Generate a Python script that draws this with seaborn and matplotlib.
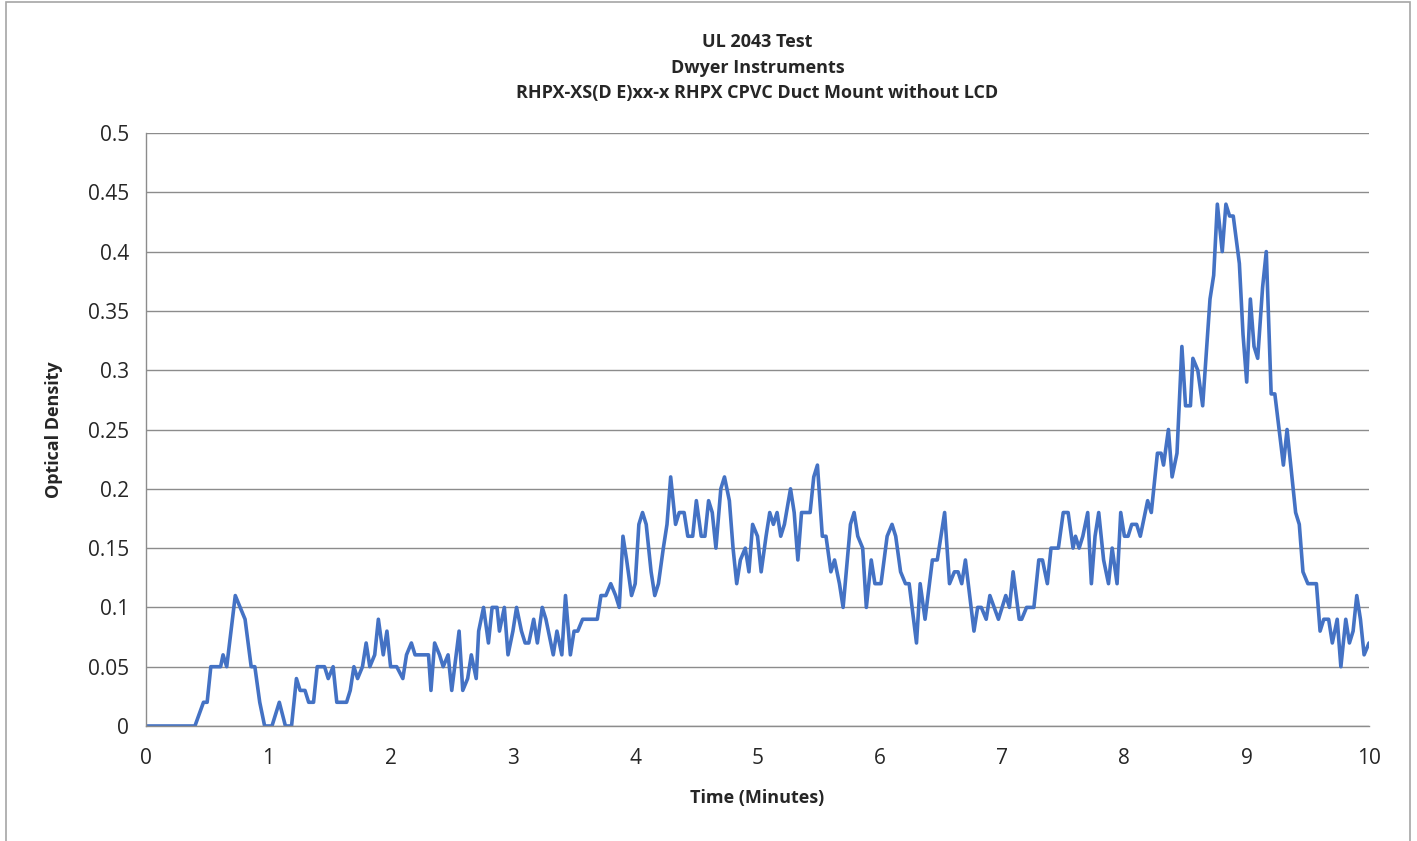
import pandas as pd
import seaborn as sns
import matplotlib.pyplot as plt
from matplotlib.patches import Rectangle

# time (minutes) and optical density
time_min = [
    0, 0.40, 0.47, 0.50, 0.53, 0.61, 0.63, 0.66, 0.73, 0.77, 0.81, 0.86, 0.89, 0.93, 0.97,
    1.03, 1.09, 1.14, 1.19, 1.23, 1.26, 1.30, 1.33, 1.37, 1.40, 1.46, 1.49, 1.53, 1.56, 1.64,
    1.67, 1.70, 1.73, 1.77, 1.80, 1.83, 1.87, 1.90, 1.94, 1.97, 2.00, 2.05, 2.10, 2.13, 2.17,
    2.20, 2.31, 2.33, 2.36, 2.40, 2.43, 2.47, 2.50, 2.56, 2.59, 2.63, 2.66, 2.70, 2.72, 2.76,
    2.80, 2.83, 2.87, 2.89, 2.93, 2.96, 3.00, 3.03, 3.07, 3.10, 3.13, 3.17, 3.20, 3.24, 3.27,
    3.33, 3.36, 3.40, 3.43, 3.47, 3.50, 3.53, 3.57, 3.69, 3.72, 3.76, 3.80, 3.84, 3.87, 3.90,
    3.93, 3.97, 4.00, 4.03, 4.06, 4.09, 4.13, 4.16, 4.19, 4.23, 4.26, 4.29, 4.33, 4.36, 4.40,
    4.43, 4.47, 4.50, 4.54, 4.57, 4.60, 4.63, 4.66, 4.70, 4.73, 4.77, 4.80, 4.83, 4.86, 4.90,
    4.93, 4.96, 5.00, 5.03, 5.07, 5.10, 5.13, 5.16, 5.19, 5.22, 5.27, 5.30, 5.33, 5.36, 5.43,
    5.46, 5.49, 5.53, 5.56, 5.60, 5.63, 5.67, 5.70, 5.76, 5.79, 5.82, 5.86, 5.89, 5.93, 5.96,
    6.01, 6.06, 6.10, 6.13, 6.17, 6.21, 6.24, 6.30, 6.33, 6.37, 6.43, 6.47, 6.53, 6.57, 6.61,
    6.64, 6.67, 6.70, 6.77, 6.80, 6.83, 6.87, 6.90, 6.97, 7.03, 7.06, 7.09, 7.14, 7.16, 7.20,
    7.26, 7.30, 7.33, 7.37, 7.40, 7.46, 7.50, 7.54, 7.58, 7.60, 7.63, 7.66, 7.70, 7.73, 7.76,
    7.79, 7.83, 7.87, 7.90, 7.94, 7.97, 8.00, 8.03, 8.06, 8.10, 8.13, 8.19, 8.22, 8.27, 8.30,
    8.32, 8.36, 8.39, 8.43, 8.47, 8.50, 8.54, 8.56, 8.60, 8.64, 8.70, 8.73, 8.76, 8.80, 8.83,
    8.86, 8.89, 8.94, 8.97, 9.00, 9.03, 9.06, 9.09, 9.13, 9.16, 9.20, 9.23, 9.30, 9.33, 9.40,
    9.43, 9.46, 9.50, 9.57, 9.60, 9.63, 9.67, 9.70, 9.74, 9.77, 9.81, 9.84, 9.87, 9.90, 9.93,
    9.96, 10.00,
]
optical_density = [
    0, 0, 0.02, 0.02, 0.05, 0.05, 0.06, 0.05, 0.11, 0.10, 0.09, 0.05, 0.05, 0.02, 0,
    0, 0.02, 0, 0, 0.04, 0.03, 0.03, 0.02, 0.02, 0.05, 0.05, 0.04, 0.05, 0.02, 0.02,
    0.03, 0.05, 0.04, 0.05, 0.07, 0.05, 0.06, 0.09, 0.06, 0.08, 0.05, 0.05, 0.04, 0.06, 0.07,
    0.06, 0.06, 0.03, 0.07, 0.06, 0.05, 0.06, 0.03, 0.08, 0.03, 0.04, 0.06, 0.04, 0.08, 0.10,
    0.07, 0.10, 0.10, 0.08, 0.10, 0.06, 0.08, 0.10, 0.08, 0.07, 0.07, 0.09, 0.07, 0.10, 0.09,
    0.06, 0.08, 0.06, 0.11, 0.06, 0.08, 0.08, 0.09, 0.09, 0.11, 0.11, 0.12, 0.11, 0.10, 0.16,
    0.14, 0.11, 0.12, 0.17, 0.18, 0.17, 0.13, 0.11, 0.12, 0.15, 0.17, 0.21, 0.17, 0.18, 0.18,
    0.16, 0.16, 0.19, 0.16, 0.16, 0.19, 0.18, 0.15, 0.20, 0.21, 0.19, 0.15, 0.12, 0.14, 0.15,
    0.13, 0.17, 0.16, 0.13, 0.16, 0.18, 0.17, 0.18, 0.16, 0.17, 0.20, 0.18, 0.14, 0.18, 0.18,
    0.21, 0.22, 0.16, 0.16, 0.13, 0.14, 0.12, 0.10, 0.17, 0.18, 0.16, 0.15, 0.10, 0.14, 0.12,
    0.12, 0.16, 0.17, 0.16, 0.13, 0.12, 0.12, 0.07, 0.12, 0.09, 0.14, 0.14, 0.18, 0.12, 0.13,
    0.13, 0.12, 0.14, 0.08, 0.10, 0.10, 0.09, 0.11, 0.09, 0.11, 0.10, 0.13, 0.09, 0.09, 0.10,
    0.10, 0.14, 0.14, 0.12, 0.15, 0.15, 0.18, 0.18, 0.15, 0.16, 0.15, 0.16, 0.18, 0.12, 0.16,
    0.18, 0.14, 0.12, 0.15, 0.12, 0.18, 0.16, 0.16, 0.17, 0.17, 0.16, 0.19, 0.18, 0.23, 0.23,
    0.22, 0.25, 0.21, 0.23, 0.32, 0.27, 0.27, 0.31, 0.30, 0.27, 0.36, 0.38, 0.44, 0.40, 0.44,
    0.43, 0.43, 0.39, 0.33, 0.29, 0.36, 0.32, 0.31, 0.37, 0.40, 0.28, 0.28, 0.22, 0.25, 0.18,
    0.17, 0.13, 0.12, 0.12, 0.08, 0.09, 0.09, 0.07, 0.09, 0.05, 0.09, 0.07, 0.08, 0.11, 0.09,
    0.06, 0.07,
]
x_ticks = list(range(0, 11))
y_ticks = [0, 0.05, 0.1, 0.15, 0.2, 0.25, 0.3, 0.35, 0.4, 0.45, 0.5]
y_tick_labels = ['0', '0.05', '0.1', '0.15', '0.2', '0.25', '0.3', '0.35', '0.4', '0.45', '0.5']

df = pd.DataFrame({'Time': time_min, 'OD': optical_density})

sns.set_style('white')
plt.rcParams['font.family'] = ['Open Sans', 'DejaVu Sans']

fig = plt.figure(figsize=(14.17, 8.41), dpi=100)
ax = fig.add_axes([146 / 1417, 1 - 726 / 841, (1369 - 146) / 1417, (726 - 133) / 841])

# outer chart frame like the spreadsheet chart border
fig.patches.append(Rectangle((6 / 1417, -0.01), 1404 / 1417, 1 - 2 / 841 + 0.01,
                             transform=fig.transFigure, fill=False,
                             edgecolor='#a6a6a6', linewidth=1.2))

sns.lineplot(data=df, x='Time', y='OD', ax=ax, color='#4472C4', linewidth=2.6)

ax.set_xlim(0, 10)
ax.set_ylim(0, 0.5)
ax.set_xticks(x_ticks)
ax.set_yticks(y_ticks)
ax.set_yticklabels(y_tick_labels)
ax.yaxis.grid(True, color='#8c8c8c', linewidth=1)
ax.xaxis.grid(False)
for side in ['top', 'right']:
    ax.spines[side].set_visible(False)
for side in ['left', 'bottom']:
    ax.spines[side].set_color('#8c8c8c')
    ax.spines[side].set_linewidth(1)
ax.tick_params(axis='x', direction='out', length=6, color='#8c8c8c', labelsize=15, pad=10)
ax.tick_params(axis='y', length=0, labelsize=15, pad=12)

ax.set_xlabel('Time (Minutes)', fontsize=13, fontweight='bold', labelpad=14)
ax.set_ylabel('Optical Density', fontsize=13, fontweight='bold', labelpad=18)
ax.set_title('UL 2043 Test\nDwyer Instruments\nRHPX-XS(D E)xx-x RHPX CPVC Duct Mount without LCD',
             fontsize=13, fontweight='bold', linespacing=1.55, pad=25)

fig.savefig('out.png', dpi=100)
